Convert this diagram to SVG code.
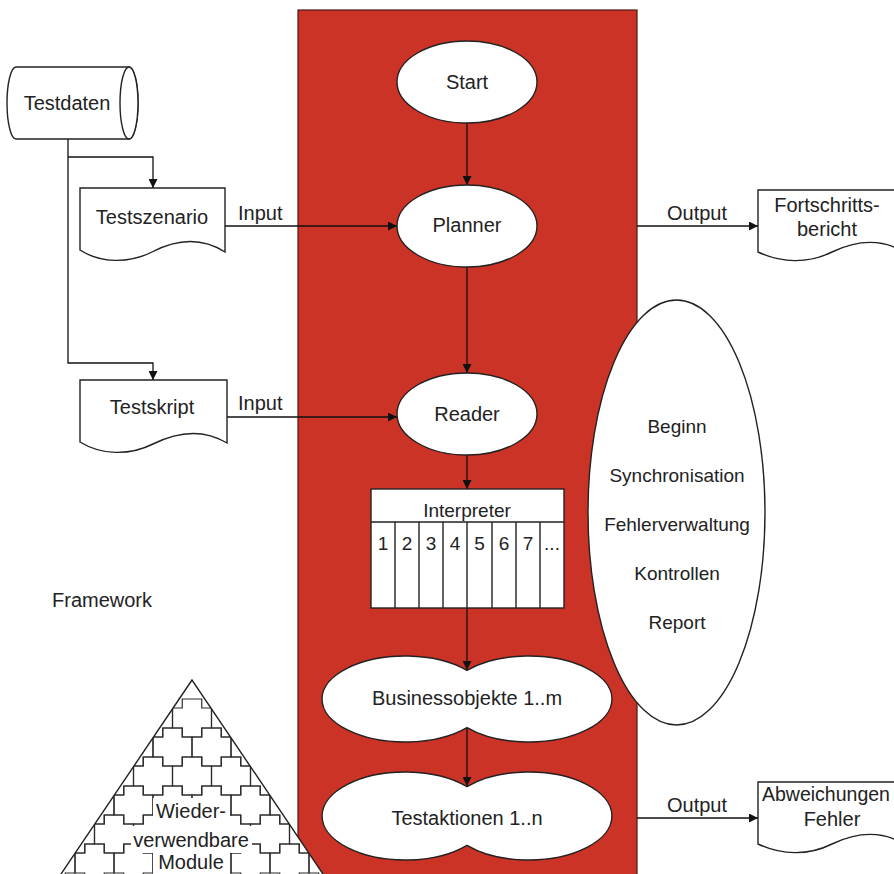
<svg xmlns="http://www.w3.org/2000/svg" xmlns:xlink="http://www.w3.org/1999/xlink" width="894" height="874" viewBox="0 0 894 874">
<style>
text{font-family:"Liberation Sans",Arial,sans-serif;fill:#222;}
.t20{font-size:20px;}
.t19{font-size:19px;}
.mid{text-anchor:middle;}
.shape{fill:#fff;stroke:#222;stroke-width:1.4;}
.conn{fill:none;stroke:#111;stroke-width:1.3;}
.tile{fill:none;stroke:#2a2a2a;stroke-width:1.2;}
</style>
<defs>
<marker id="arr" markerUnits="userSpaceOnUse" markerWidth="9" markerHeight="9" refX="9" refY="4.5" orient="auto">
<path d="M0,0 L9,4.5 L0,9 Z" fill="#111"/>
</marker>
<path id="cross" d="M-9.75,-19 H9.75 V-10 H19.5 V10 H9.75 V19 H-9.75 V10 H-19.5 V-10 H-9.75 Z"/>
<clipPath id="triClip"><polygon points="192,680 57,880 327,880"/></clipPath>
</defs>

<rect id="bg" x="0" y="0" width="894" height="874" fill="#fff"/>

<g id="framework-area">
<rect x="298" y="10" width="339" height="880" fill="#cb3327" stroke="#4a1a12" stroke-width="1.2"/>
</g>

<g id="pyramid">
<polygon points="192,680 57,880 327,880" fill="#fff"/>
<g clip-path="url(#triClip)" class="tile">
<use xlink:href="#cross" x="153" y="718"/><use xlink:href="#cross" x="192" y="718"/><use xlink:href="#cross" x="231" y="718"/>
<use xlink:href="#cross" x="133.5" y="747"/><use xlink:href="#cross" x="172.5" y="747"/><use xlink:href="#cross" x="211.5" y="747"/><use xlink:href="#cross" x="250.5" y="747"/>
<use xlink:href="#cross" x="114" y="776"/><use xlink:href="#cross" x="153" y="776"/><use xlink:href="#cross" x="192" y="776"/><use xlink:href="#cross" x="231" y="776"/><use xlink:href="#cross" x="270" y="776"/>
<use xlink:href="#cross" x="94.5" y="805"/><use xlink:href="#cross" x="133.5" y="805"/><use xlink:href="#cross" x="172.5" y="805"/><use xlink:href="#cross" x="211.5" y="805"/><use xlink:href="#cross" x="250.5" y="805"/><use xlink:href="#cross" x="289.5" y="805"/>
<use xlink:href="#cross" x="75" y="834"/><use xlink:href="#cross" x="114" y="834"/><use xlink:href="#cross" x="153" y="834"/><use xlink:href="#cross" x="192" y="834"/><use xlink:href="#cross" x="231" y="834"/><use xlink:href="#cross" x="270" y="834"/><use xlink:href="#cross" x="309" y="834"/>
<use xlink:href="#cross" x="55.5" y="863"/><use xlink:href="#cross" x="94.5" y="863"/><use xlink:href="#cross" x="133.5" y="863"/><use xlink:href="#cross" x="172.5" y="863"/><use xlink:href="#cross" x="211.5" y="863"/><use xlink:href="#cross" x="250.5" y="863"/><use xlink:href="#cross" x="289.5" y="863"/><use xlink:href="#cross" x="328.5" y="863"/>
</g>
<rect x="153" y="798" width="77" height="29" fill="#fff"/>
<rect x="131" y="826" width="121" height="27" fill="#fff"/>
<rect x="153" y="852" width="77" height="24" fill="#fff"/>
<polygon points="192,680 57,880 327,880" fill="none" stroke="#222" stroke-width="1.4"/>
<text class="t20 mid" x="191" y="818">Wieder-</text>
<text class="t20 mid" x="191" y="847">verwendbare</text>
<text class="t20 mid" x="191" y="869">Module</text>
</g>

<g id="connectors">
<path class="conn" d="M68,139 V363 H153 V380" marker-end="url(#arr)"/>
<path class="conn" d="M68,157 H153 V188" marker-end="url(#arr)"/>
<path class="conn" d="M225,226 H397" marker-end="url(#arr)"/>
<path class="conn" d="M227,417 H397" marker-end="url(#arr)"/>
<path class="conn" d="M467,123 V185" marker-end="url(#arr)"/>
<path class="conn" d="M467,267 V373" marker-end="url(#arr)"/>
<path class="conn" d="M467,455 V489" marker-end="url(#arr)"/>
<path class="conn" d="M467,522 V670" marker-end="url(#arr)"/>
<path class="conn" d="M467,728 V786" marker-end="url(#arr)"/>
<path class="conn" d="M637,226 H758" marker-end="url(#arr)"/>
<path class="conn" d="M637,818 H758" marker-end="url(#arr)"/>
<text class="t20" x="238" y="220">Input</text>
<text class="t20" x="238" y="410">Input</text>
<text class="t20 mid" x="697" y="220">Output</text>
<text class="t20 mid" x="697" y="812">Output</text>
</g>

<g id="testdaten">
<path class="shape" d="M16,67 H129 A9,36 0 0,1 129,139 H16 A9,36 0 0,1 16,67 Z"/>
<ellipse class="shape" cx="129" cy="103" rx="9" ry="36"/>
<text class="t20 mid" x="67" y="110">Testdaten</text>
</g>

<g id="testszenario">
<path class="shape" d="M80,188 H225 V252 C200,236 175,240 152,252 C128,264 100,263 80,250 Z"/>
<text class="t20 mid" x="152" y="224">Testszenario</text>
</g>

<g id="testskript">
<path class="shape" d="M80,380 H227 V443 C202,428 177,432 153,444 C129,456 101,455 80,442 Z"/>
<text class="t20 mid" x="152" y="414">Testskript</text>
</g>

<g id="fortschrittsbericht">
<path class="shape" d="M758,190 H906 V253 C882,238 857,240 832,252 C808,264 781,263 758,252 Z"/>
<text class="t20 mid" x="827" y="212">Fortschritts-</text>
<text class="t20 mid" x="827" y="236">bericht</text>
</g>

<g id="abweichungen">
<path class="shape" d="M758,782 H906 V845 C882,830 857,832 832,844 C808,856 781,855 758,844 Z"/>
<text x="762" y="801" font-size="19.5">Abweichungen</text>
<text class="t20 mid" x="832" y="826">Fehler</text>
</g>

<g id="start">
<ellipse class="shape" cx="467" cy="82" rx="70" ry="41"/>
<text class="t20 mid" x="467" y="89">Start</text>
</g>

<g id="planner">
<ellipse class="shape" cx="467" cy="226" rx="70" ry="41"/>
<text class="t20 mid" x="467" y="232">Planner</text>
</g>

<g id="reader">
<ellipse class="shape" cx="467" cy="414" rx="70" ry="41"/>
<text class="t20 mid" x="467" y="421">Reader</text>
</g>

<g id="interpreter">
<rect class="shape" x="371" y="489" width="193" height="119"/>
<path fill="none" stroke="#222" stroke-width="1.4" d="M371,522 H564 M395,522 V608 M419,522 V608 M443,522 V608 M467,522 V608 M492,522 V608 M516,522 V608 M540,522 V608"/>
<text class="t19 mid" x="467" y="517">Interpreter</text>
<text class="t19 mid" x="383" y="550">1</text>
<text class="t19 mid" x="407" y="550">2</text>
<text class="t19 mid" x="431" y="550">3</text>
<text class="t19 mid" x="455" y="550">4</text>
<text class="t19 mid" x="479.5" y="550">5</text>
<text class="t19 mid" x="504" y="550">6</text>
<text class="t19 mid" x="528" y="550">7</text>
<text class="t19 mid" x="552" y="550">...</text>
</g>

<g id="businessobjekte">
<path class="shape" d="M467,670.4 A83,43 0 1,1 467,727.6 A83,43 0 1,1 467,670.4 Z"/>
<text class="t20 mid" x="467" y="705">Businessobjekte 1..m</text>
</g>

<g id="testaktionen">
<path class="shape" d="M467,786.7 A83,44 0 1,1 467,845.3 A83,44 0 1,1 467,786.7 Z"/>
<text class="t20 mid" x="467" y="825">Testaktionen 1..n</text>
</g>

<g id="services">
<ellipse class="shape" cx="676.5" cy="512.5" rx="88.5" ry="212.5"/>
<text class="t19 mid" x="677" y="433">Beginn</text>
<text class="t19 mid" x="677" y="482">Synchronisation</text>
<text class="t19 mid" x="677" y="531">Fehlerverwaltung</text>
<text class="t19 mid" x="677" y="580">Kontrollen</text>
<text class="t19 mid" x="677" y="629">Report</text>
</g>

<g id="framework-label">
<text class="t20" x="52" y="607">Framework</text>
</g>
</svg>
